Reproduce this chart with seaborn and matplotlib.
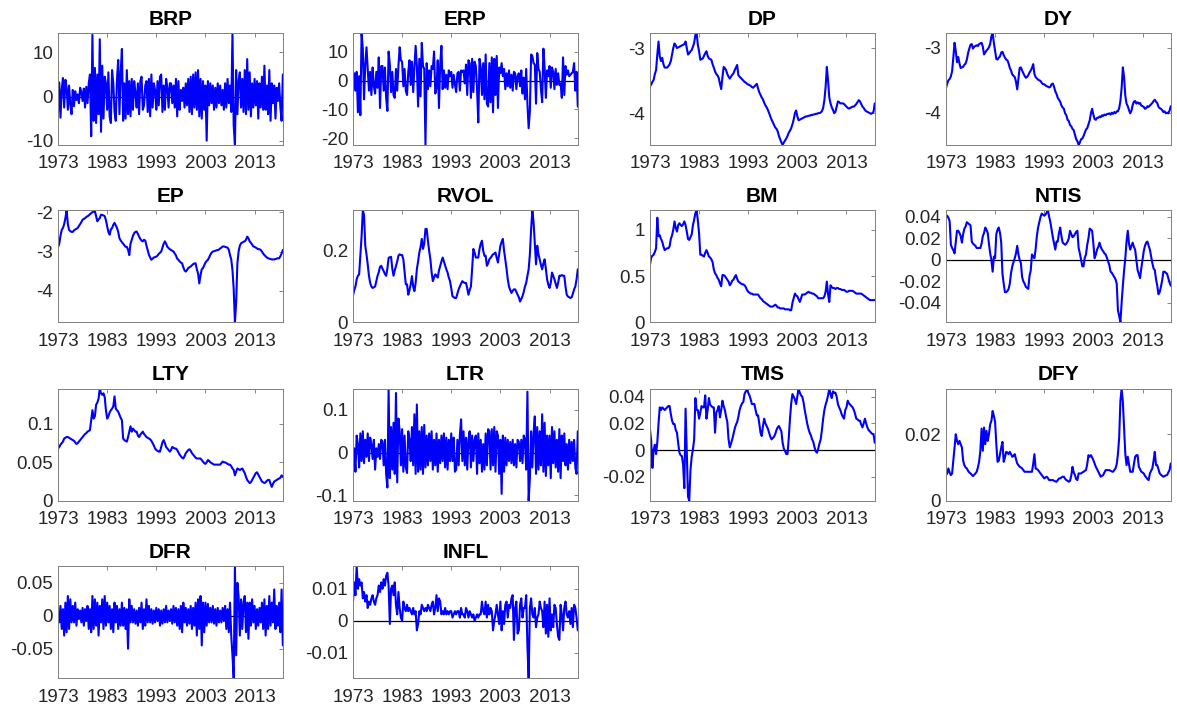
import numpy as np
import matplotlib
matplotlib.use("Agg")
import matplotlib.pyplot as plt
import seaborn as sns

# quarterly values, 1973Q1 .. 2018Q4
BRP = [
    -3.5, 3.2, -4.8, 1.5, 4.2, -2.5, 3.8, 2.0, -3.0, 2.5, -1.8, -4.0,
    1.5, -2.2, 1.2, -0.8, 0.5, -1.5, 2.0, 1.0, -1.0, 1.8, -2.5, 2.2,
    -1.5, 3.0, 5.0, -9.0, 14.0, -5.5, 6.5, -6.0, 5.0, -4.0, 13.0, -8.0,
    7.0, -5.0, 4.5, 3.0, -3.0, 5.5, -4.5, -6.0, 6.0, 3.0, -3.5, -5.5,
    4.0, 8.3, -4.0, 5.5, 10.8, -5.5, 3.0, -5.0, 6.0, -4.0, 3.5, -4.5,
    4.0, -3.0, 3.5, 1.0, -2.5, 3.0, -4.0, 3.5, 4.5, -3.0, -2.0, 2.5,
    3.5, -3.5, 4.0, -4.5, 5.0, -2.5, 3.0, 1.5, -3.0, 3.5, -2.0, 4.5,
    5.0, -3.5, 2.5, -3.0, 4.0, 2.0, -2.5, 3.0, 3.0, -1.5, 2.5, -2.5,
    4.0, -4.5, 3.5, -3.0, 1.5, -1.0, 2.0, -2.5, 3.0, -2.0, 4.0, -3.5,
    4.5, -4.0, 5.0, -2.5, 5.5, -3.0, 6.0, -4.5, 4.0, -5.0, 3.5, -3.0,
    2.5, -10.0, 3.5, -2.0, 3.0, -1.5, 2.5, -3.0, 2.0, -2.5, 3.0, -1.5,
    2.5, -2.0, 1.5, -3.0, 3.0, -2.5, 4.0, -1.5, 2.5, -3.5, 14.4, -6.5,
    -11.0, 6.0, -4.0, 3.5, 5.5, -2.5, 4.0, -3.5, 6.0, -4.0, 8.5, -3.0,
    5.5, -4.5, 3.0, -2.5, 4.0, -2.0, 3.5, -5.0, 3.0, -2.5, 4.5, -3.0,
    7.0, -3.0, 2.5, -4.0, 6.0, -5.5, 3.0, -1.5, 2.5, -5.0, 2.0, -1.0,
    3.0, -2.5, -5.5, 5.0,
]
ERP = [
    -4.0, 2.5, -3.5, 3.0, -11.0, 1.5, -12.0, 16.4, 11.0, -6.5, 5.5, 11.5,
    4.0, -3.5, 3.0, -5.0, 4.5, -2.0, -4.5, 3.0, -2.5, 8.0, -9.5, 5.0,
    5.0, -3.5, 4.5, -6.0, -10.5, 10.0, 5.5, -4.0, 3.0, -5.0, -6.0, 4.0,
    -3.5, 5.0, 11.5, 7.0, 6.5, -2.0, 4.0, -3.5, -5.0, 3.0, 7.0, -1.5,
    6.5, -4.0, 4.5, 12.0, 5.0, -9.0, 7.5, -5.5, 13.0, 5.0, 4.0, -22.3,
    6.0, -3.0, 3.5, -2.0, 5.0, 4.0, 10.0, -4.5, -2.5, 7.0, -9.5, 5.5,
    12.0, -3.0, 3.5, -2.5, 2.0, -3.0, 3.5, 1.5, 3.0, -2.5, 2.0, -1.5,
    -4.0, 2.5, 3.0, -3.5, 3.5, 3.0, 3.5, -1.0, 5.5, -5.0, 7.0, 6.0,
    -6.0, 7.5, -4.0, 6.5, 5.0, -3.0, -14.5, 7.5, 4.5, -5.0, 6.0, -6.5,
    9.0, -8.0, -9.0, 6.0, -7.5, 8.0, -11.0, 7.5, -5.0, 8.5, -9.5, 4.5,
    2.5, 6.0, 1.5, 4.0, -3.0, 2.5, -2.0, 3.5, -2.5, 2.0, -3.5, 3.0,
    2.5, -3.0, 1.5, 2.5, -2.0, 3.5, -4.5, 1.0, -6.5, 4.0, -8.0, -16.5,
    -10.5, 9.0, 8.5, 6.0, 5.5, -8.0, 9.5, 4.0, 3.0, -3.0, -7.5, 11.0,
    4.5, -6.0, 3.5, 1.5, 5.0, -2.5, 4.5, 3.0, -3.0, 4.0, -1.5, 2.5,
    -1.5, -1.0, -6.0, 8.0, -5.0, 5.0, 2.0, 3.5, 1.5, 2.0, 2.5, 3.0,
    6.0, -3.5, 3.0, -9.0,
]
DP = [
    -3.59, -3.56, -3.52, -3.49, -3.40, -3.34, -3.10, -2.90, -3.13, -3.20, -3.15, -3.25,
    -3.30, -3.30, -3.30, -3.28, -3.25, -3.20, -3.10, -3.00, -2.93, -2.96, -3.00, -2.99,
    -2.98, -2.97, -2.96, -2.95, -2.94, -2.90, -3.00, -3.10, -3.08, -3.05, -3.03, -2.98,
    -2.92, -2.80, -2.77, -2.95, -3.05, -3.18, -3.17, -3.16, -3.12, -3.08, -3.05, -3.12,
    -3.16, -3.17, -3.18, -3.25, -3.30, -3.36, -3.40, -3.42, -3.46, -3.55, -3.63, -3.45,
    -3.29, -3.31, -3.34, -3.40, -3.44, -3.47, -3.44, -3.41, -3.39, -3.34, -3.30, -3.26,
    -3.42, -3.44, -3.46, -3.48, -3.50, -3.52, -3.53, -3.55, -3.56, -3.57, -3.58, -3.60,
    -3.61, -3.59, -3.57, -3.55, -3.62, -3.68, -3.72, -3.76, -3.79, -3.84, -3.88, -3.91,
    -3.95, -4.00, -4.05, -4.10, -4.14, -4.18, -4.22, -4.24, -4.28, -4.35, -4.40, -4.45,
    -4.49, -4.45, -4.42, -4.39, -4.35, -4.30, -4.27, -4.23, -4.17, -4.10, -4.00, -3.96,
    -4.05, -4.11, -4.10, -4.09, -4.08, -4.07, -4.06, -4.05, -4.05, -4.04, -4.04, -4.03,
    -4.03, -4.02, -4.02, -4.01, -4.01, -4.00, -4.00, -3.99, -3.97, -3.92, -3.80, -3.60,
    -3.29, -3.50, -3.76, -3.85, -3.91, -3.95, -4.00, -3.98, -3.90, -3.82, -3.83, -3.85,
    -3.85, -3.85, -3.86, -3.88, -3.90, -3.92, -3.93, -3.92, -3.91, -3.90, -3.90, -3.88,
    -3.86, -3.83, -3.80, -3.82, -3.86, -3.90, -3.92, -3.95, -3.97, -3.98, -3.99, -4.00,
    -4.01, -4.00, -3.98, -3.85,
]
DY = [
    -3.62, -3.55, -3.50, -3.48, -3.44, -3.36, -3.15, -2.92, -3.05, -3.22, -3.14, -3.24,
    -3.31, -3.30, -3.29, -3.26, -3.24, -3.18, -3.08, -3.01, -2.95, -2.94, -3.01, -2.98,
    -2.97, -2.96, -2.97, -2.94, -2.93, -2.92, -2.98, -3.10, -3.07, -3.04, -3.02, -2.99,
    -2.94, -2.82, -2.77, -2.92, -3.04, -3.17, -3.18, -3.15, -3.13, -3.07, -3.06, -3.11,
    -3.15, -3.18, -3.19, -3.24, -3.31, -3.35, -3.41, -3.43, -3.45, -3.52, -3.64, -3.47,
    -3.31, -3.30, -3.35, -3.39, -3.43, -3.46, -3.45, -3.42, -3.38, -3.35, -3.31, -3.25,
    -3.40, -3.45, -3.47, -3.49, -3.50, -3.51, -3.54, -3.56, -3.56, -3.58, -3.59, -3.60,
    -3.61, -3.60, -3.56, -3.55, -3.60, -3.67, -3.71, -3.77, -3.80, -3.83, -3.89, -3.92,
    -3.94, -4.01, -4.04, -4.11, -4.13, -4.19, -4.21, -4.25, -4.27, -4.34, -4.41, -4.44,
    -4.50, -4.46, -4.41, -4.40, -4.36, -4.31, -4.26, -4.24, -4.18, -4.12, -4.01, -3.94,
    -4.03, -4.10, -4.11, -4.08, -4.08, -4.06, -4.07, -4.04, -4.05, -4.03, -4.04, -4.02,
    -4.02, -4.01, -4.03, -4.00, -4.02, -3.99, -4.01, -3.98, -3.98, -3.93, -3.82, -3.62,
    -3.30, -3.45, -3.74, -3.86, -3.90, -3.96, -4.01, -3.97, -3.88, -3.83, -3.82, -3.86,
    -3.84, -3.86, -3.85, -3.89, -3.90, -3.91, -3.94, -3.93, -3.90, -3.91, -3.89, -3.87,
    -3.85, -3.82, -3.80, -3.83, -3.85, -3.91, -3.93, -3.94, -3.96, -3.99, -3.98, -4.01,
    -4.00, -4.01, -3.97, -3.90,
]
EP = [
    -2.89, -2.80, -2.60, -2.45, -2.40, -2.30, -2.15, -1.95, -2.30, -2.45, -2.48, -2.50,
    -2.50, -2.46, -2.44, -2.42, -2.40, -2.35, -2.30, -2.25, -2.19, -2.17, -2.15, -2.12,
    -2.10, -2.08, -2.05, -2.02, -2.00, -1.98, -1.97, -2.10, -2.23, -2.18, -2.15, -2.06,
    -2.07, -2.08, -2.10, -2.20, -2.36, -2.50, -2.57, -2.44, -2.40, -2.32, -2.27, -2.33,
    -2.40, -2.50, -2.66, -2.72, -2.76, -2.80, -2.84, -2.88, -2.88, -2.95, -3.09, -2.80,
    -2.70, -2.60, -2.53, -2.50, -2.49, -2.55, -2.62, -2.68, -2.72, -2.74, -2.70, -2.72,
    -2.85, -2.96, -3.08, -3.15, -3.21, -3.18, -3.15, -3.14, -3.13, -3.10, -3.06, -3.03,
    -3.00, -2.90, -2.80, -2.74, -2.80, -2.88, -2.91, -2.94, -2.96, -2.98, -3.00, -3.05,
    -3.10, -3.18, -3.21, -3.25, -3.28, -3.30, -3.40, -3.48, -3.51, -3.47, -3.42, -3.40,
    -3.38, -3.35, -3.32, -3.30, -3.30, -3.45, -3.56, -3.81, -3.60, -3.45, -3.42, -3.35,
    -3.28, -3.24, -3.21, -3.15, -3.08, -3.03, -3.00, -2.99, -2.98, -2.97, -2.96, -2.95,
    -2.92, -2.90, -2.87, -2.87, -2.88, -2.89, -2.90, -2.95, -3.09, -3.20, -3.47, -3.95,
    -4.80, -4.30, -3.30, -3.00, -2.85, -2.79, -2.77, -2.75, -2.74, -2.70, -2.62, -2.66,
    -2.74, -2.78, -2.82, -2.87, -2.88, -2.90, -2.92, -2.94, -2.94, -2.96, -3.00, -3.05,
    -3.09, -3.12, -3.15, -3.17, -3.18, -3.19, -3.20, -3.20, -3.20, -3.19, -3.18, -3.17,
    -3.17, -3.12, -3.05, -2.96,
]
RVOL = [
    0.075, 0.090, 0.100, 0.120, 0.130, 0.134, 0.186, 0.240, 0.313, 0.300, 0.214, 0.190,
    0.162, 0.130, 0.110, 0.100, 0.096, 0.098, 0.100, 0.115, 0.130, 0.140, 0.155, 0.158,
    0.150, 0.143, 0.135, 0.130, 0.150, 0.180, 0.182, 0.183, 0.150, 0.130, 0.145, 0.158,
    0.170, 0.186, 0.190, 0.188, 0.188, 0.176, 0.140, 0.106, 0.106, 0.077, 0.090, 0.106,
    0.129, 0.100, 0.087, 0.110, 0.148, 0.170, 0.195, 0.210, 0.233, 0.205, 0.220, 0.261,
    0.261, 0.228, 0.200, 0.176, 0.140, 0.115, 0.125, 0.134, 0.130, 0.125, 0.145, 0.158,
    0.170, 0.181, 0.170, 0.158, 0.148, 0.139, 0.125, 0.115, 0.095, 0.073, 0.070, 0.068,
    0.068, 0.080, 0.092, 0.100, 0.108, 0.115, 0.112, 0.110, 0.110, 0.095, 0.077, 0.090,
    0.100, 0.150, 0.205, 0.195, 0.181, 0.181, 0.181, 0.205, 0.220, 0.228, 0.200, 0.186,
    0.186, 0.158, 0.165, 0.176, 0.180, 0.185, 0.190, 0.192, 0.195, 0.180, 0.167, 0.190,
    0.214, 0.225, 0.233, 0.200, 0.176, 0.150, 0.120, 0.100, 0.090, 0.082, 0.088, 0.092,
    0.092, 0.085, 0.077, 0.070, 0.058, 0.065, 0.073, 0.085, 0.100, 0.110, 0.130, 0.148,
    0.190, 0.260, 0.313, 0.280, 0.220, 0.162, 0.214, 0.190, 0.176, 0.160, 0.148, 0.165,
    0.176, 0.150, 0.120, 0.105, 0.096, 0.110, 0.139, 0.130, 0.120, 0.108, 0.096, 0.110,
    0.130, 0.130, 0.132, 0.130, 0.130, 0.100, 0.077, 0.072, 0.070, 0.068, 0.070, 0.080,
    0.092, 0.100, 0.120, 0.148,
]
BM = [
    0.62, 0.70, 0.72, 0.73, 0.76, 0.80, 1.13, 0.93, 0.94, 0.90, 0.87, 0.82,
    0.78, 0.79, 0.80, 0.80, 0.82, 0.90, 0.94, 1.00, 1.09, 1.02, 0.98, 1.05,
    1.07, 1.05, 1.04, 1.06, 1.09, 1.05, 0.98, 0.90, 0.89, 0.92, 0.95, 1.05,
    1.11, 1.18, 1.21, 1.10, 0.96, 0.73, 0.73, 0.72, 0.71, 0.75, 0.78, 0.75,
    0.71, 0.70, 0.68, 0.65, 0.57, 0.53, 0.51, 0.48, 0.46, 0.42, 0.39, 0.51,
    0.51, 0.50, 0.48, 0.46, 0.44, 0.40, 0.42, 0.45, 0.46, 0.49, 0.51, 0.47,
    0.44, 0.43, 0.42, 0.41, 0.41, 0.40, 0.38, 0.35, 0.33, 0.32, 0.31, 0.31,
    0.30, 0.30, 0.30, 0.30, 0.30, 0.28, 0.26, 0.25, 0.23, 0.22, 0.21, 0.20,
    0.19, 0.18, 0.17, 0.17, 0.17, 0.18, 0.19, 0.18, 0.16, 0.16, 0.15, 0.15,
    0.15, 0.15, 0.14, 0.14, 0.14, 0.14, 0.13, 0.13, 0.21, 0.26, 0.31, 0.29,
    0.28, 0.25, 0.22, 0.26, 0.30, 0.30, 0.30, 0.31, 0.32, 0.33, 0.32, 0.32,
    0.31, 0.31, 0.30, 0.29, 0.28, 0.26, 0.26, 0.26, 0.26, 0.26, 0.28, 0.33,
    0.44, 0.30, 0.22, 0.40, 0.38, 0.37, 0.37, 0.36, 0.37, 0.37, 0.36, 0.36,
    0.35, 0.35, 0.35, 0.34, 0.33, 0.33, 0.34, 0.34, 0.34, 0.34, 0.33, 0.32,
    0.31, 0.31, 0.31, 0.31, 0.31, 0.30, 0.29, 0.28, 0.27, 0.26, 0.25, 0.24,
    0.24, 0.24, 0.24, 0.24,
]
NTIS = [
    0.040, 0.041, 0.039, 0.036, 0.014, 0.011, 0.009, 0.006, 0.017, 0.027, 0.027, 0.025,
    0.022, 0.016, 0.024, 0.029, 0.031, 0.035, 0.034, 0.033, 0.032, 0.017, 0.015, 0.014,
    0.013, 0.011, 0.011, 0.011, 0.011, 0.015, 0.022, 0.025, 0.030, 0.028, 0.025, 0.015,
    0.006, 0.000, -0.011, 0.003, 0.0015, 0.024, 0.028, 0.030, 0.025, 0.016, -0.013, -0.022,
    -0.030, -0.030, -0.029, -0.027, -0.022, -0.012, -0.006, -0.002, 0.0015, 0.006, 0.013, 0.005,
    0.000, -0.003, -0.016, -0.020, -0.022, -0.025, -0.026, -0.027, -0.015, -0.010, 0.005, 0.003,
    0.0015, 0.010, 0.022, 0.030, 0.035, 0.040, 0.043, 0.042, 0.041, 0.042, 0.044, 0.046,
    0.040, 0.035, 0.028, 0.021, 0.015, 0.0095, 0.017, 0.017, 0.025, 0.030, 0.022, 0.016,
    0.015, 0.014, 0.015, 0.017, 0.020, 0.027, 0.024, 0.021, 0.022, 0.024, 0.026, 0.027,
    0.011, 0.006, 0.000, -0.006, -0.006, 0.002, 0.005, 0.014, 0.020, 0.029, 0.028, 0.027,
    0.015, 0.0015, 0.005, 0.0095, 0.012, 0.016, 0.012, 0.0095, 0.008, 0.006, 0.005, 0.002,
    -0.0015, -0.005, -0.011, -0.012, -0.014, -0.016, -0.018, -0.022, -0.047, -0.052, -0.058, -0.040,
    -0.024, -0.010, 0.0015, 0.017, 0.027, 0.015, 0.0095, 0.013, 0.016, 0.012, 0.0095, 0.000,
    -0.0095, -0.013, -0.017, -0.008, 0.000, 0.008, 0.013, 0.016, 0.017, 0.013, 0.0095, 0.003,
    -0.003, -0.008, -0.0095, -0.018, -0.024, -0.032, -0.030, -0.025, -0.019, -0.011, -0.011, -0.012,
    -0.013, -0.017, -0.021, -0.024,
]
LTY = [
    0.068, 0.070, 0.073, 0.075, 0.077, 0.081, 0.082, 0.083, 0.083, 0.082, 0.081, 0.080,
    0.079, 0.078, 0.076, 0.074, 0.075, 0.077, 0.079, 0.081, 0.083, 0.085, 0.087, 0.088,
    0.090, 0.091, 0.092, 0.105, 0.118, 0.107, 0.110, 0.125, 0.128, 0.133, 0.146, 0.140,
    0.138, 0.140, 0.135, 0.118, 0.107, 0.110, 0.115, 0.118, 0.120, 0.123, 0.136, 0.120,
    0.118, 0.116, 0.112, 0.108, 0.105, 0.081, 0.079, 0.078, 0.077, 0.083, 0.090, 0.097,
    0.090, 0.094, 0.092, 0.090, 0.090, 0.085, 0.083, 0.086, 0.088, 0.090, 0.087, 0.085,
    0.083, 0.082, 0.081, 0.080, 0.078, 0.075, 0.072, 0.068, 0.066, 0.065, 0.064, 0.064,
    0.070, 0.076, 0.079, 0.075, 0.070, 0.068, 0.066, 0.064, 0.066, 0.070, 0.069, 0.068,
    0.068, 0.066, 0.063, 0.060, 0.058, 0.056, 0.055, 0.058, 0.062, 0.064, 0.066, 0.067,
    0.065, 0.062, 0.060, 0.058, 0.056, 0.055, 0.055, 0.055, 0.055, 0.053, 0.051, 0.049,
    0.048, 0.050, 0.053, 0.052, 0.050, 0.049, 0.048, 0.047, 0.047, 0.047, 0.047, 0.047,
    0.047, 0.049, 0.051, 0.050, 0.050, 0.049, 0.048, 0.047, 0.047, 0.045, 0.042, 0.040,
    0.033, 0.038, 0.042, 0.041, 0.040, 0.041, 0.042, 0.039, 0.036, 0.031, 0.027, 0.025,
    0.023, 0.024, 0.027, 0.030, 0.033, 0.036, 0.037, 0.034, 0.031, 0.028, 0.025, 0.024,
    0.023, 0.024, 0.026, 0.027, 0.027, 0.022, 0.018, 0.022, 0.025, 0.026, 0.027, 0.028,
    0.029, 0.030, 0.033, 0.031,
]
LTR = [
    -0.030, 0.010, -0.045, 0.040, 0.020, -0.035, 0.045, -0.020, 0.050, -0.025, 0.030, -0.010,
    0.045, -0.020, 0.035, 0.020, -0.015, 0.030, -0.040, 0.010, -0.010, 0.020, -0.015, 0.030,
    0.025, -0.030, 0.030, -0.050, -0.082, 0.150, -0.060, 0.060, -0.040, 0.070, -0.050, 0.140,
    -0.070, 0.080, 0.050, -0.030, 0.055, -0.045, 0.040, -0.035, -0.048, 0.050, 0.030, -0.020,
    0.060, -0.030, 0.090, -0.050, 0.113, -0.045, 0.050, -0.040, 0.060, -0.050, 0.065, -0.035,
    0.040, -0.030, 0.045, -0.020, 0.050, -0.040, 0.030, -0.030, 0.045, -0.045, 0.030, -0.025,
    0.040, -0.020, 0.045, -0.035, 0.035, -0.040, 0.030, -0.020, 0.045, -0.020, 0.035, -0.045,
    -0.040, 0.030, -0.030, 0.040, 0.078, -0.020, 0.050, -0.030, 0.035, -0.040, 0.030, 0.050,
    -0.035, 0.040, -0.020, 0.030, 0.040, -0.050, 0.045, -0.025, 0.030, -0.045, 0.020, -0.040,
    0.045, -0.030, 0.055, 0.050, -0.040, 0.055, -0.030, 0.060, -0.045, 0.050, 0.040, -0.050,
    0.030, -0.097, 0.040, -0.045, 0.035, -0.030, 0.030, -0.020, 0.025, -0.025, 0.030, -0.030,
    0.020, -0.035, 0.030, 0.025, -0.020, 0.030, -0.025, 0.040, 0.030, -0.040, 0.143, -0.113,
    -0.060, 0.050, -0.035, 0.045, 0.085, -0.050, 0.060, -0.040, 0.050, -0.030, 0.090, -0.045,
    0.070, -0.055, 0.040, -0.030, 0.040, -0.060, 0.060, -0.025, 0.050, -0.035, 0.030, -0.045,
    0.055, -0.060, 0.040, -0.020, 0.045, -0.030, 0.020, -0.040, 0.030, -0.025, 0.025, -0.020,
    0.030, -0.035, -0.050, 0.050,
]
TMS = [
    0.0157, 0.007, -0.0134, 0.000, 0.004, -0.003, 0.006, 0.020, 0.032, 0.030, 0.032, 0.031,
    0.030, 0.031, 0.032, 0.033, 0.033, 0.027, 0.022, 0.0195, 0.0195, 0.015, 0.013, 0.005,
    -0.002, -0.004, -0.0045, -0.011, -0.0286, 0.031, -0.003, -0.035, -0.038, -0.015, -0.005, 0.0005,
    0.008, 0.039, 0.030, 0.030, 0.0235, 0.028, 0.033, 0.032, 0.032, 0.041, 0.0235, 0.030,
    0.039, 0.034, 0.033, 0.032, 0.032, 0.013, 0.028, 0.030, 0.033, 0.0245, 0.030, 0.037,
    0.033, 0.030, 0.025, 0.021, 0.008, 0.002, 0.005, 0.008, 0.012, 0.016, 0.019, 0.021,
    0.025, 0.030, 0.033, 0.035, 0.036, 0.042, 0.044, 0.045, 0.043, 0.041, 0.038, 0.0345,
    0.0345, 0.0345, 0.030, 0.026, 0.026, 0.020, 0.013, 0.0105, 0.018, 0.0235, 0.020, 0.018,
    0.016, 0.013, 0.010, 0.008, 0.009, 0.010, 0.012, 0.015, 0.017, 0.018, 0.016, 0.014,
    0.0055, 0.001, -0.0008, -0.003, -0.003, 0.009, 0.0235, 0.035, 0.042, 0.040, 0.038, 0.0345,
    0.040, 0.046, 0.043, 0.041, 0.040, 0.036, 0.030, 0.025, 0.020, 0.016, 0.013, 0.011,
    0.008, 0.006, 0.002, -0.001, -0.002, 0.001, 0.005, 0.008, 0.015, 0.0235, 0.030, 0.034,
    0.037, 0.041, 0.046, 0.042, 0.039, 0.044, 0.043, 0.043, 0.040, 0.0345, 0.032, 0.030,
    0.027, 0.025, 0.0235, 0.030, 0.032, 0.037, 0.035, 0.034, 0.033, 0.032, 0.030, 0.027,
    0.0235, 0.023, 0.022, 0.022, 0.019, 0.017, 0.020, 0.0235, 0.020, 0.017, 0.015, 0.014,
    0.013, 0.012, 0.012, 0.0055,
]
DFY = [
    0.0077, 0.0082, 0.0097, 0.0085, 0.0077, 0.0082, 0.0120, 0.0160, 0.0200, 0.0180, 0.0170, 0.0180,
    0.0170, 0.0160, 0.0120, 0.0107, 0.0100, 0.0097, 0.0090, 0.0085, 0.0082, 0.0078, 0.0074, 0.0078,
    0.0082, 0.0087, 0.0100, 0.0117, 0.0150, 0.0217, 0.0150, 0.0220, 0.0170, 0.0210, 0.0180, 0.0200,
    0.0230, 0.0240, 0.0270, 0.0255, 0.0237, 0.0170, 0.0117, 0.0120, 0.0140, 0.0160, 0.0177, 0.0117,
    0.0130, 0.0147, 0.0145, 0.0140, 0.0147, 0.0140, 0.0132, 0.0135, 0.0140, 0.0125, 0.0112, 0.0107,
    0.0102, 0.0100, 0.0097, 0.0092, 0.0087, 0.0087, 0.0087, 0.0087, 0.0087, 0.0087, 0.0087, 0.0110,
    0.0140, 0.0097, 0.0095, 0.0092, 0.0087, 0.0082, 0.0077, 0.0072, 0.0067, 0.0070, 0.0072, 0.0068,
    0.0062, 0.0062, 0.0062, 0.0062, 0.0060, 0.0058, 0.0057, 0.0062, 0.0067, 0.0067, 0.0070, 0.0072,
    0.0072, 0.0066, 0.0062, 0.0060, 0.0057, 0.0060, 0.0075, 0.0102, 0.0085, 0.0077, 0.0065, 0.0062,
    0.0082, 0.0082, 0.0082, 0.0085, 0.0087, 0.0090, 0.0092, 0.0110, 0.0137, 0.0132, 0.0137, 0.0130,
    0.0122, 0.0112, 0.0102, 0.0095, 0.0087, 0.0080, 0.0072, 0.0075, 0.0077, 0.0085, 0.0092, 0.0092,
    0.0092, 0.0092, 0.0090, 0.0088, 0.0087, 0.0092, 0.0097, 0.0110, 0.0140, 0.0190, 0.0300, 0.0337,
    0.0297, 0.0220, 0.0140, 0.0107, 0.0132, 0.0110, 0.0087, 0.0087, 0.0087, 0.0110, 0.0132, 0.0137,
    0.0137, 0.0102, 0.0095, 0.0087, 0.0085, 0.0082, 0.0075, 0.0070, 0.0065, 0.0062, 0.0082, 0.0090,
    0.0097, 0.0120, 0.0147, 0.0107, 0.0107, 0.0095, 0.0082, 0.0078, 0.0075, 0.0072, 0.0074, 0.0076,
    0.0077, 0.0085, 0.0092, 0.0112,
]
DFR = [
    0.005, -0.010, 0.015, -0.020, 0.010, -0.030, 0.020, -0.025, 0.030, -0.020, 0.025, -0.010,
    0.015, -0.010, 0.020, -0.015, 0.010, -0.005, 0.008, -0.010, 0.012, -0.015, 0.010, -0.008,
    0.015, -0.020, 0.010, -0.025, 0.030, -0.020, 0.025, -0.015, 0.020, -0.030, 0.015, -0.010,
    0.025, -0.020, 0.030, -0.015, 0.020, -0.010, 0.015, -0.020, 0.010, -0.025, 0.020, -0.010,
    0.015, -0.020, 0.010, -0.015, 0.020, -0.015, 0.012, -0.020, 0.010, -0.050, 0.025, -0.010,
    0.015, -0.010, 0.010, -0.012, 0.008, -0.015, 0.012, -0.010, 0.020, -0.020, 0.010, -0.015,
    0.025, -0.010, 0.015, -0.010, 0.010, -0.012, 0.008, -0.010, 0.012, -0.008, 0.010, -0.015,
    0.008, -0.012, 0.010, -0.010, 0.015, -0.010, 0.008, -0.008, 0.010, -0.012, 0.015, -0.010,
    0.012, -0.015, 0.010, -0.020, 0.015, -0.025, 0.020, -0.010, 0.012, -0.015, 0.010, -0.012,
    0.015, -0.020, 0.012, -0.015, 0.020, -0.030, 0.025, -0.020, 0.030, -0.045, 0.020, -0.025,
    0.020, -0.015, 0.018, -0.010, 0.012, -0.010, 0.015, -0.012, 0.010, -0.015, 0.012, -0.010,
    0.008, -0.010, 0.012, -0.008, 0.015, -0.020, 0.010, -0.025, 0.020, -0.030, -0.060, -0.095,
    0.075, -0.060, 0.050, 0.030, -0.030, 0.025, -0.020, 0.020, 0.030, -0.025, 0.020, -0.035,
    0.020, -0.015, 0.025, -0.010, 0.015, -0.020, 0.010, -0.015, 0.012, -0.010, 0.020, -0.020,
    0.025, -0.030, 0.015, -0.020, 0.030, -0.015, 0.020, -0.010, 0.040, -0.020, 0.015, -0.015,
    0.020, -0.025, 0.040, -0.045,
]
INFL = [
    0.006, 0.012, 0.008, 0.017, 0.010, 0.013, 0.011, 0.012, 0.007, 0.009, 0.006, 0.008,
    0.004, 0.006, 0.005, 0.007, 0.008, 0.006, 0.005, 0.007, 0.008, 0.011, 0.009, 0.012,
    0.010, 0.013, 0.011, 0.014, 0.015, 0.011, -0.001, 0.010, 0.011, 0.008, 0.012, 0.005,
    0.002, 0.009, 0.004, 0.001, 0.000, 0.006, 0.004, 0.003, 0.005, 0.003, 0.004, 0.003,
    0.002, 0.004, 0.002, 0.003, -0.003, -0.001, 0.003, 0.002, 0.005, 0.004, 0.003, 0.004,
    0.003, 0.005, 0.004, 0.003, 0.005, 0.006, 0.002, 0.004, 0.008, 0.003, 0.007, 0.006,
    0.002, 0.003, 0.002, 0.004, 0.002, 0.003, 0.002, 0.003, 0.003, 0.001, 0.002, 0.003,
    0.002, 0.003, 0.003, 0.001, 0.004, 0.002, 0.002, 0.001, 0.004, 0.003, 0.001, 0.003,
    0.002, 0.001, 0.002, 0.000, 0.001, 0.002, 0.001, 0.002, 0.002, 0.006, 0.003, 0.002,
    0.006, 0.001, 0.005, 0.002, 0.004, 0.003, -0.003, 0.000, 0.002, 0.005, 0.002, -0.001,
    0.006, -0.003, 0.003, -0.001, 0.005, 0.006, 0.001, 0.005, 0.004, 0.007, 0.008, -0.006,
    0.004, 0.006, -0.004, -0.003, 0.005, 0.007, 0.001, 0.004, 0.004, 0.008, -0.008, -0.018,
    0.004, 0.007, 0.002, 0.001, 0.004, -0.002, 0.001, 0.002, 0.006, 0.004, 0.003, -0.002,
    0.006, -0.004, 0.005, -0.005, 0.007, -0.003, 0.002, -0.002, 0.005, 0.004, -0.001, -0.005,
    -0.006, 0.005, 0.002, -0.003, 0.004, 0.006, 0.002, 0.001, 0.003, -0.001, 0.004, -0.002,
    0.005, 0.004, 0.001, -0.003,
]

START_YEAR = 1973
X_TICKS = [1973, 1983, 1993, 2003, 2013]

# name, values, y ticks, draw zero line, lower limit at 0
panels = [
    ("BRP", BRP, [-10, 0, 10], True, False),
    ("ERP", ERP, [-20, -10, 0, 10], True, False),
    ("DP", DP, [-4, -3], False, False),
    ("DY", DY, [-4, -3], False, False),
    ("EP", EP, [-4, -3, -2], False, False),
    ("RVOL", RVOL, [0, 0.2], False, True),
    ("BM", BM, [0, 0.5, 1], False, True),
    ("NTIS", NTIS, [-0.04, -0.02, 0, 0.02, 0.04], True, False),
    ("LTY", LTY, [0, 0.05, 0.1], False, True),
    ("LTR", LTR, [-0.1, 0, 0.1], True, False),
    ("TMS", TMS, [-0.02, 0, 0.02, 0.04], True, False),
    ("DFY", DFY, [0, 0.02], False, True),
    ("DFR", DFR, [-0.05, 0, 0.05], True, False),
    ("INFL", INFL, [-0.01, 0, 0.01], True, False),
]

sns.set_style("white")
plt.rcParams["font.family"] = ["Liberation Sans", "DejaVu Sans"]

fig = plt.figure(figsize=(11.77, 7.11), dpi=100)

lefts = [0.0493, 0.2999, 0.5522, 0.8037]
bottoms = [0.796, 0.5467, 0.2958, 0.0459]
w, h = 0.191, 0.1575

for i, (name, vals, yt, zero, from_zero) in enumerate(panels):
    r, c = divmod(i, 4)
    ax = fig.add_axes([lefts[c], bottoms[r], w, h])
    vals = np.asarray(vals, dtype=float)
    t = START_YEAR + 0.25 * np.arange(len(vals))

    if zero:
        ax.axhline(0, color="black", lw=0.9, zorder=1)
    sns.lineplot(x=t, y=vals, ax=ax, color="blue", linewidth=1.5, zorder=2)

    ax.set_xlim(t[0], t[-1])
    lo = 0 if from_zero else vals.min()
    ax.set_ylim(lo, vals.max())
    ax.set_xticks(X_TICKS)
    ax.set_yticks(yt)
    ax.set_yticklabels(["{:g}".format(v) for v in yt])
    ax.set_xlabel("")
    ax.set_ylabel("")
    ax.set_title(name, fontsize=15, fontweight="bold", color="black", pad=6)

    ax.tick_params(direction="in", top=True, right=True, length=3, width=0.6,
                   color="0.45", labelcolor="0.15", labelsize=13.5)
    ax.tick_params(axis="x", pad=7.5)
    ax.tick_params(axis="y", pad=3.5)
    for sp in ax.spines.values():
        sp.set_color("0.5")
        sp.set_linewidth(0.7)

fig.savefig("out.png", dpi=100, facecolor="white")
